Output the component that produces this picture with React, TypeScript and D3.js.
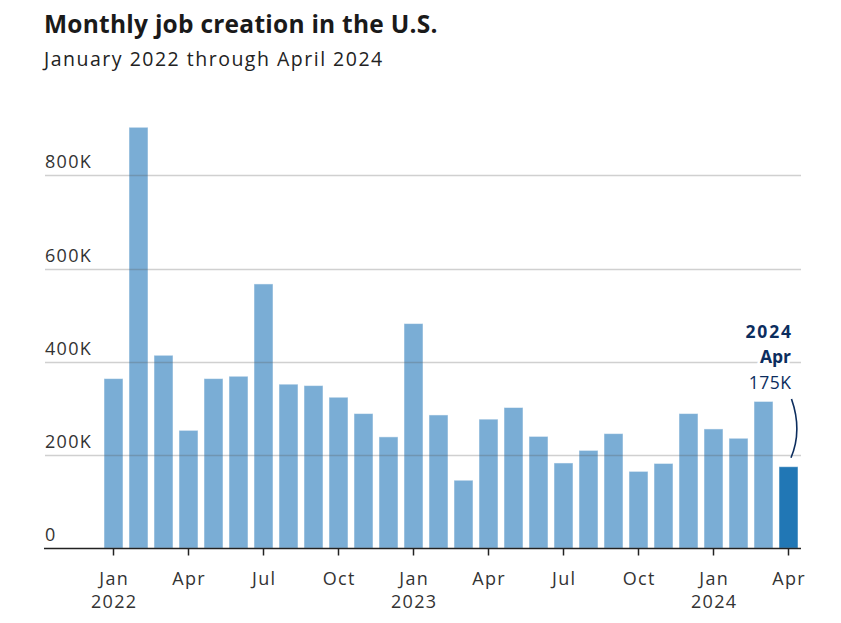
import React from "react";
import * as d3 from "d3";

const months = [
  "Jan","Feb","Mar","Apr","May","Jun","Jul","Aug","Sep","Oct","Nov","Dec",
  "Jan","Feb","Mar","Apr","May","Jun","Jul","Aug","Sep","Oct","Nov","Dec",
  "Jan","Feb","Mar","Apr",
];
const years = [
  2022,2022,2022,2022,2022,2022,2022,2022,2022,2022,2022,2022,
  2023,2023,2023,2023,2023,2023,2023,2023,2023,2023,2023,2023,
  2024,2024,2024,2024,
];
const jobs = [
  364, 903, 414, 253, 364, 369, 567, 352, 349, 324, 289, 239,
  482, 286, 146, 277, 302, 240, 183, 210, 246, 165, 182, 289,
  256, 236, 315, 175,
];
const yTicks = [0, 200, 400, 600, 800];
const tickMonths = ["Jan", "Apr", "Jul", "Oct"];

const W = 841;
const H = 623;
const FONT = "'Open Sans', Lato, sans-serif";

export default function App() {
  const keys = months.map((m, i) => `${m}-${years[i]}`);
  const x = d3
    .scaleBand<string>()
    .domain(keys)
    .range([101, 801])
    .paddingInner(0.24)
    .paddingOuter(0.12);
  const y = d3.scaleLinear().domain([0, 800]).range([548.3, 175.3]);
  const bw = x.bandwidth();
  const last = jobs.length - 1;
  const lastKey = keys[last];
  const lx = (x(lastKey) as number) + bw / 2;

  const curveStartY = 399;
  const curveEndY = y(jobs[last]) - 9;
  const cx = lx + 14;
  const cy = (curveStartY + curveEndY) / 2 + 2;
  const connector = d3.path();
  connector.moveTo(lx + 3, curveStartY);
  connector.quadraticCurveTo(cx, cy, lx + 2.5, curveEndY);

  const ls = 1.3;

  return (
    <svg
      width={W}
      height={H}
      style={{ position: "absolute", left: 0, top: 0, background: "#fff" }}
      fontFamily={FONT}
    >
      <text x={44} y={33} fontSize={24.5} fontWeight={700} fill="#1a1a1a" letterSpacing={0.25}>
        Monthly job creation in the U.S.
      </text>
      <text x={44} y={66} fontSize={19.5} fill="#222" letterSpacing={1.5}>
        January 2022 through April 2024
      </text>

      {/* bars */}
      {jobs.map((v, i) => (
        <rect
          key={keys[i]}
          x={x(keys[i])}
          y={y(v)}
          width={bw}
          height={y(0) - y(v)}
          fill={i === last ? "#2177b5" : "#7aadd5"}
          stroke="#ffffff"
          strokeOpacity={0.5}
          strokeWidth={1}
        />
      ))}

      {/* gridlines */}
      {yTicks.map((t) =>
        t === 0 ? null : (
          <line
            key={t}
            x1={45}
            x2={801}
            y1={Math.round(y(t)) + 0.5}
            y2={Math.round(y(t)) + 0.5}
            stroke="#555"
            strokeOpacity={0.28}
            strokeWidth={1.3}
          />
        )
      )}
      {yTicks.map((t) => (
        <text key={"l" + t} x={45} y={y(t) - 7} fontSize={18} fill="#333" letterSpacing={ls}>
          {t === 0 ? "0" : `${t}K`}
        </text>
      ))}

      {/* x axis */}
      <line x1={44} x2={801} y1={548.5} y2={548.5} stroke="#222" strokeWidth={1.6} />
      {keys.map((k, i) =>
        tickMonths.includes(months[i]) ? (
          <g key={"t" + k} transform={`translate(${(x(k) as number) + bw / 2},0)`}>
            <line y1={549} y2={555.5} stroke="#222" strokeWidth={1.5} />
            <text x={ls / 2} y={585} textAnchor="middle" fontSize={18} fill="#333" letterSpacing={ls}>
              {months[i]}
            </text>
            {months[i] === "Jan" ? (
              <text x={ls / 2} y={608} textAnchor="middle" fontSize={18} fill="#333" letterSpacing={ls}>
                {years[i]}
              </text>
            ) : null}
          </g>
        ) : null
      )}

      {/* annotation */}
      <g fill="#0c2d5e" textAnchor="end">
        <text x={791 + 1.8} y={338} fontSize={17.5} fontWeight={700} letterSpacing={1.8}>
          {years[last]}
        </text>
        <text
          x={791}
          y={363}
          fontSize={17.5}
          fontWeight={700}
          stroke="#fff"
          strokeWidth={5}
          paintOrder="stroke"
        >
          {months[last]}
        </text>
        <text x={791 + 0.5} y={388.5} fontSize={17.5} letterSpacing={0.5}>
          {`${jobs[last]}K`}
        </text>
      </g>
      <path d={connector.toString()} fill="none" stroke="#0c2d5e" strokeWidth={1.6} />
    </svg>
  );
}
